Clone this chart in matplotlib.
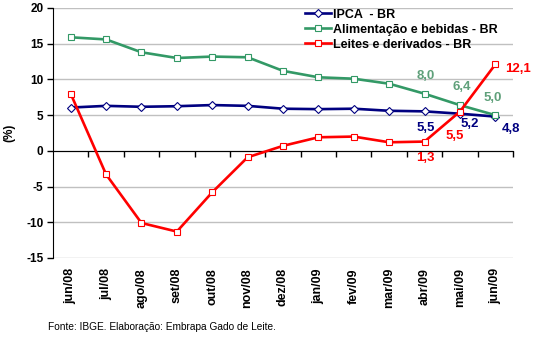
import matplotlib
matplotlib.use("Agg")
import matplotlib.pyplot as plt
import matplotlib.transforms as mtransforms

months = ["jun/08", "jul/08", "ago/08", "set/08", "out/08", "nov/08", "dez/08",
          "jan/09", "fev/09", "mar/09", "abr/09", "mai/09", "jun/09"]
ipca = [6.06, 6.3, 6.17, 6.25, 6.41, 6.3, 5.9, 5.84, 5.9, 5.61, 5.53, 5.2, 4.8]
alimentacao = [15.9, 15.6, 13.8, 13.0, 13.2, 13.1, 11.2, 10.3, 10.1, 9.4, 8.0, 6.4, 5.0]
leites = [8.0, -3.3, -10.1, -11.3, -5.8, -0.9, 0.7, 1.9, 2.0, 1.2, 1.3, 5.5, 12.1]
series_names = ["IPCA  - BR", "Alimentação e bebidas - BR", "Leites e derivados - BR"]
yticks = [-15, -10, -5, 0, 5, 10, 15, 20]

navy = "#000080"
green = "#339966"
green_lbl = "#5FA07A"
red = "#FF0000"

plt.rcParams['font.family'] = ['Liberation Sans', 'DejaVu Sans']

fig = plt.figure(figsize=(5.33, 3.38), dpi=100)
W, H = 533, 338
ax = fig.add_axes([53 / W, 1 - 258 / H, (513 - 53) / W, (258 - 8) / H])

x = list(range(len(months)))
ax.set_xlim(-0.5, len(months) - 0.5)
ax.set_ylim(-15, 20)

for v in yticks:
    ax.axhline(v, color="#C0C0C0", lw=1.0, zorder=0)

l1, = ax.plot(x, ipca, color=navy, lw=1.9, marker="D", ms=3.6, mfc="white", mec=navy, mew=0.8, zorder=3)
l2, = ax.plot(x, alimentacao, color=green, lw=1.9, marker="s", ms=4.2, mfc="white", mec=green, mew=0.8, zorder=3)
l3, = ax.plot(x, leites, color=red, lw=1.9, marker="s", ms=4.2, mfc="white", mec=red, mew=0.8, zorder=4)

# axes styling
for s in ["top", "right"]:
    ax.spines[s].set_visible(False)
ax.spines["left"].set_color("black")
ax.spines["bottom"].set_position(("data", 0))
ax.spines["bottom"].set_color("black")
ax.spines["bottom"].set_zorder(2)
ax.set_yticks(yticks)
ax.set_yticklabels([str(v) for v in yticks], fontsize=8.5, fontweight="bold")
ax.tick_params(axis="y", length=4, width=1, pad=3)
ax.set_xticks([i + 0.5 for i in range(len(months))])
ax.set_xticklabels([])
ax.tick_params(axis="x", length=4, width=1, direction="out")

trans = mtransforms.blended_transform_factory(ax.transData, ax.transAxes)
for i, m in enumerate(months):
    ax.text(i, -10 / 250, m, transform=trans, rotation=90, ha="center", va="top",
            fontsize=9, fontweight="bold")

ax.set_ylabel("(%)", fontsize=8.5, fontweight="bold", labelpad=8)

# data labels
def lab(xi, yi, txt, col, dx, dy):
    ax.annotate(txt, (xi, yi), xytext=(dx, dy), textcoords="offset pixels",
                ha="center", va="center", color=col, fontsize=9.5, fontweight="bold", zorder=5)

lab(10, alimentacao[10], "8,0", green_lbl, 1, 18)
lab(11, alimentacao[11], "6,4", green_lbl, 2, 18.5)
lab(12, alimentacao[12], "5,0", green_lbl, -2.5, 17.5)
lab(12, leites[12], "12,1", red, 23, -5)
lab(11, leites[11], "5,5", red, -5, -24)
lab(10, leites[10], "1,3", red, 1, -16)
lab(10, ipca[10], "5,5", navy, 1, -17)
lab(11, ipca[11], "5,2", navy, 10, -10)
lab(12, ipca[12], "4,8", navy, 16, -12)

fig.legend([l1, l2, l3], series_names, loc="upper left",
           bbox_to_anchor=(302 / W, 1 - 6 / H), frameon=False,
           prop={"size": 9, "weight": "bold"}, handlelength=2.1, handletextpad=0.15,
           labelspacing=0.24, borderaxespad=0, borderpad=0.2)

fig.text(48 / W, 1 - 327 / H, "Fonte: IBGE. Elaboração: Embrapa Gado de Leite.",
         fontsize=7.3, va="center", ha="left")

fig.savefig("out.png", dpi=100)
